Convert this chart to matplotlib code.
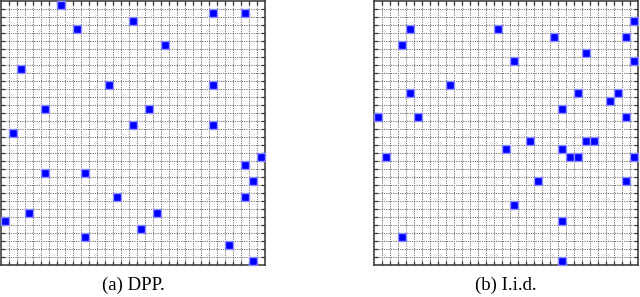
import matplotlib
matplotlib.use("Agg")
import matplotlib.pyplot as plt
import numpy as np

N = 33  # lattice size

# (column, row-from-top) of sampled cells
dpp_cols = [7, 26, 30, 16, 9, 20, 2, 13, 26, 5, 18, 16, 26, 1, 32, 30, 5, 10, 31, 14, 30, 3, 19, 0, 17, 10, 28, 31]
dpp_rows = [0, 1, 1, 2, 3, 5, 8, 10, 10, 13, 13, 15, 15, 16, 19, 20, 21, 21, 22, 24, 24, 26, 26, 27, 28, 29, 30, 32]

iid_cols = [32, 4, 15, 22, 31, 3, 26, 17, 32, 9, 4, 25, 30, 29, 23, 0, 5, 31, 19, 26, 27, 16, 23, 1, 24, 25, 32, 20, 31, 17, 23, 3, 23]
iid_rows = [2, 3, 3, 4, 4, 5, 6, 7, 7, 10, 11, 11, 11, 12, 13, 14, 14, 14, 17, 17, 17, 18, 18, 19, 19, 19, 19, 22, 22, 25, 27, 29, 32]

captions = ["(a) DPP.", "(b) I.i.d."]

W, H = 640, 297
fig = plt.figure(figsize=(W / 100, H / 100), dpi=100)

panels = [(dpp_cols, dpp_rows), (iid_cols, iid_rows)]
lefts = [1, 374]
for (cols, rows), lp, cap in zip(panels, lefts, captions):
    ax = fig.add_axes([lp / W, (H - 265) / H, 264 / W, 264 / H])
    ax.set_xlim(-0.5, N - 0.5)
    ax.set_ylim(N - 0.5, -0.5)
    edges = np.arange(0.5, N - 0.5, 1.0)
    ax.set_xticks(edges)
    ax.set_yticks(edges)
    ax.tick_params(direction="in", length=3, width=0.9, color="#333333",
                   top=True, right=True, labelbottom=False, labelleft=False)
    ax.grid(True, linestyle=(0, (1.2, 1.2)), color="#6e6e6e", linewidth=0.7)
    ax.set_axisbelow(True)
    for s in ax.spines.values():
        s.set_linewidth(1.1)
        s.set_color("#333333")
    ax.plot(cols, rows, linestyle="none", marker="s", markersize=5.6,
            markerfacecolor="#0000ff", markeredgecolor="#8c8cff",
            markeredgewidth=1.0, clip_on=False, zorder=3)
    fig.text((lp + 132) / W, 7 / H, cap, ha="center", va="baseline",
             fontsize=13.5, family=["Liberation Serif", "DejaVu Serif"])

fig.savefig("out.png", dpi=100)
